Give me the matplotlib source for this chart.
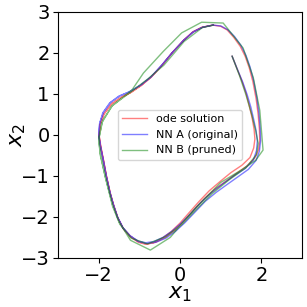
import matplotlib
matplotlib.use("Agg")
import matplotlib.pyplot as plt

# ODE solution (red)
x_ode = [1.28, 1.40, 1.52, 1.62, 1.70, 1.77, 1.82, 1.84, 1.81, 1.72, 1.52, 1.25, 0.98, 0.72, 0.47, 0.22, 0.00,
         -0.22, -0.44, -0.65, -0.84, -1.02, -1.22, -1.39, -1.52, -1.62, -1.71, -1.80, -1.88, -1.95, -1.99, -1.97,
         -1.88, -1.70, -1.46, -1.22, -0.96, -0.72, -0.46, -0.20, 0.08, 0.30, 0.52, 0.80, 1.00, 1.16, 1.32, 1.48,
         1.60, 1.70, 1.79, 1.87, 1.92, 1.95, 1.96, 1.93, 1.84, 1.64, 1.40, 1.14, 0.86, 0.60, 0.35, 0.10, -0.12,
         -0.36, -0.60, -0.82, -1.02, -1.22, -1.40, -1.53, -1.63, -1.72, -1.81, -1.89, -1.95, -1.99, -1.96, -1.86,
         -1.68, -1.44, -1.20, -0.94, -0.70, -0.44, -0.18, 0.10, 0.32, 0.55, 0.82]
y_ode = [1.92, 1.62, 1.32, 1.02, 0.72, 0.42, 0.14, -0.10, -0.32, -0.55, -0.74, -0.92, -1.14, -1.36, -1.62, -1.90,
         -2.15, -2.36, -2.52, -2.63, -2.67, -2.62, -2.49, -2.30, -2.05, -1.76, -1.45, -1.05, -0.62, -0.30, -0.04,
         0.24, 0.50, 0.74, 0.91, 1.03, 1.20, 1.40, 1.68, 2.00, 2.30, 2.50, 2.62, 2.68, 2.65, 2.56, 2.38, 2.16,
         1.92, 1.64, 1.30, 0.88, 0.50, 0.15, -0.14, -0.36, -0.56, -0.76, -0.93, -1.12, -1.32, -1.55, -1.82, -2.10,
         -2.32, -2.50, -2.62, -2.66, -2.61, -2.47, -2.27, -2.02, -1.72, -1.40, -1.00, -0.58, -0.26, 0.00, 0.27,
         0.52, 0.76, 0.92, 1.04, 1.22, 1.42, 1.70, 2.02, 2.32, 2.52, 2.63, 2.68]

# NN A (blue)
x_nna = [1.28, 1.41, 1.54, 1.65, 1.74, 1.81, 1.87, 1.90, 1.88, 1.80, 1.60, 1.32, 1.04, 0.76, 0.50, 0.25, 0.02,
         -0.20, -0.42, -0.64, -0.84, -1.03, -1.23, -1.40, -1.53, -1.63, -1.72, -1.81, -1.89, -1.96, -2.00, -1.98,
         -1.90, -1.73, -1.50, -1.25, -0.98, -0.73, -0.47, -0.20, 0.08, 0.31, 0.54, 0.80, 1.00, 1.17, 1.34, 1.50,
         1.62, 1.72, 1.81, 1.89, 1.94, 1.97, 1.98, 1.95, 1.87, 1.68, 1.44, 1.17, 0.89, 0.62, 0.37, 0.12, -0.11,
         -0.35, -0.60, -0.83, -1.03, -1.23, -1.41, -1.54, -1.64, -1.73, -1.82, -1.90, -1.96, -2.00, -1.97, -1.88,
         -1.71, -1.48, -1.23, -0.96, -0.71, -0.45, -0.18, 0.10, 0.33, 0.56, 0.82]
y_nna = [1.92, 1.60, 1.29, 0.98, 0.68, 0.38, 0.10, -0.15, -0.38, -0.62, -0.82, -1.00, -1.20, -1.42, -1.66, -1.93,
         -2.16, -2.35, -2.50, -2.60, -2.63, -2.59, -2.46, -2.27, -2.02, -1.73, -1.42, -1.02, -0.60, -0.28, -0.02,
         0.27, 0.54, 0.78, 0.95, 1.05, 1.21, 1.40, 1.68, 2.00, 2.30, 2.50, 2.62, 2.68, 2.66, 2.57, 2.40, 2.18,
         1.94, 1.66, 1.32, 0.90, 0.52, 0.16, -0.14, -0.40, -0.62, -0.84, -1.01, -1.20, -1.40, -1.62, -1.88, -2.14,
         -2.35, -2.52, -2.62, -2.65, -2.60, -2.46, -2.26, -2.00, -1.70, -1.38, -0.98, -0.56, -0.24, 0.02, 0.30,
         0.55, 0.79, 0.95, 1.06, 1.22, 1.42, 1.70, 2.02, 2.32, 2.52, 2.63, 2.68]

# NN B (green), coarser
x_nnb = [1.28, 1.46, 1.62, 1.76, 1.86, 1.92, 1.88, 1.62, 1.20, 0.78, 0.40, 0.05, -0.35, -0.80, -1.20, -1.48,
         -1.66, -1.82, -1.96, -2.00, -1.92, -1.68, -1.18, -0.90, -0.41, 0.04, 0.53, 1.06, 1.55, 1.80, 1.96,
         2.04, 1.86, 1.50, 1.00, 0.73, 0.41, 0.08, -0.24, -0.73, -1.22, -1.50, -1.66, -1.84, -1.96, -2.00, -1.90,
         -1.66, -1.22, -0.80, -0.40, 0.10, 0.55, 0.82]
y_nnb = [1.92, 1.45, 0.98, 0.50, 0.10, -0.20, -0.48, -0.80, -1.10, -1.44, -1.82, -2.18, -2.48, -2.66, -2.52,
         -2.18, -1.74, -1.10, -0.50, -0.12, 0.30, 0.70, 1.10, 1.51, 2.04, 2.49, 2.75, 2.73, 2.12, 1.40, 0.60,
         -0.37, -0.62, -0.86, -1.16, -1.43, -1.75, -2.12, -2.50, -2.81, -2.57, -2.12, -1.70, -1.02, -0.46, -0.10,
         0.36, 0.72, 1.04, 1.36, 1.70, 2.28, 2.62, 2.68]

labels = ["ode solution", "NN A (original)", "NN B (pruned)"]
x_ticks = [-2, 0, 2]
y_ticks = [-3, -2, -1, 0, 1, 2, 3]

fig = plt.figure(figsize=(3.07, 3.07), dpi=100)
ax = fig.add_axes([0.189, 0.160, 0.795, 0.801])
ax.plot(x_ode, y_ode, color="r", alpha=0.5, lw=1.0, label=labels[0])
ax.plot(x_nna, y_nna, color="b", alpha=0.5, lw=1.0, label=labels[1])
ax.plot(x_nnb, y_nnb, color="g", alpha=0.5, lw=1.0, label=labels[2])
ax.set_xlim(-3, 3)
ax.set_ylim(-3, 3)
ax.set_xticks(x_ticks)
ax.set_yticks(y_ticks)
ax.tick_params(labelsize=14, pad=2.5)
ax.set_xlabel("$x_1$", fontsize=16, labelpad=-1)
ax.set_ylabel("$x_2$", fontsize=16, labelpad=-5)
ax.legend(loc="center", fontsize=8, handlelength=2.2)
fig.savefig("out.png", dpi=100)
